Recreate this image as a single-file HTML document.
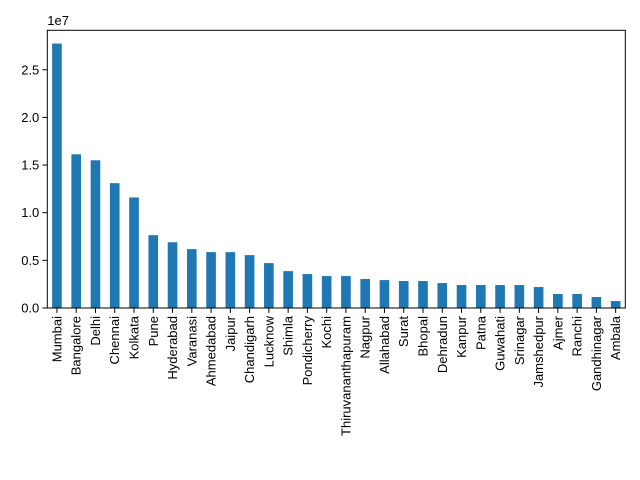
<!DOCTYPE html>
<html><head><meta charset="utf-8"><style>body{margin:0;background:#fff}svg{display:block;font-family:"Liberation Sans","DejaVu Sans",sans-serif}</style></head>
<body>
<svg id="c" width="640" height="480"></svg>
<script>
const categories=["Mumbai","Bangalore","Delhi","Chennai","Kolkata","Pune","Hyderabad","Varanasi","Ahmedabad","Jaipur","Chandigarh","Lucknow","Shimla","Pondicherry","Kochi","Thiruvananthapuram","Nagpur","Allahabad","Surat","Bhopal","Dehradun","Kanpur","Patna","Guwahati","Srinagar","Jamshedpur","Ajmer","Ranchi","Gandhinagar","Ambala"];
const values=[2.775e7,1.613e7,1.55e7,1.31e7,1.16e7,7.64e6,6.9e6,6.18e6,5.86e6,5.86e6,5.55e6,4.71e6,3.87e6,3.56e6,3.35e6,3.35e6,3.04e6,2.93e6,2.83e6,2.83e6,2.62e6,2.41e6,2.41e6,2.41e6,2.41e6,2.2e6,1.47e6,1.47e6,1.15e6,7.3e5];
const yTicks=[0,0.5e7,1e7,1.5e7,2e7,2.5e7];
const yTickLabels=["0.0","0.5","1.0","1.5","2.0","2.5"];
const NS="http://www.w3.org/2000/svg",svg=document.getElementById('c');
const L=47.3,R=625.3,T=30.3,B=308,yMax=2.914e7;
const y=v=>B-v/yMax*(B-T);
const slot=(R-L)/categories.length;
const x=i=>L+(i+0.5)*slot;
function mk(t,a){const e=document.createElementNS(NS,t);for(const k in a)e.setAttribute(k,a[k]);svg.appendChild(e);return e;}
values.forEach((v,i)=>{const r=mk('rect',{x:x(i)-slot*0.25,y:y(v),width:slot*0.5,height:B-y(v),fill:'#1f77b4'});

});
const ax=mk('rect',{x:L,y:T,width:R-L,height:B-T,fill:'none',stroke:'#000','stroke-width':1});


yTicks.forEach((v,i)=>{mk('line',{x1:L-4.9,x2:L,y1:y(v),y2:y(v),stroke:'#000'});
const t=mk('text',{x:L-8,y:y(v)+4.5,'text-anchor':'end','font-size':13});t.textContent=yTickLabels[i];

});
categories.forEach((c,i)=>{mk('line',{x1:x(i),x2:x(i),y1:B,y2:B+4.9,stroke:'#000'});
const t=mk('text',{x:0,y:0,'text-anchor':'end','font-size':13,transform:`translate(${x(i)+4.5},${B+8}) rotate(-90)`});t.textContent=c;

});
const m=mk('text',{x:L,y:25,'font-size':13});m.textContent="1e7";


</script>
</body></html>
